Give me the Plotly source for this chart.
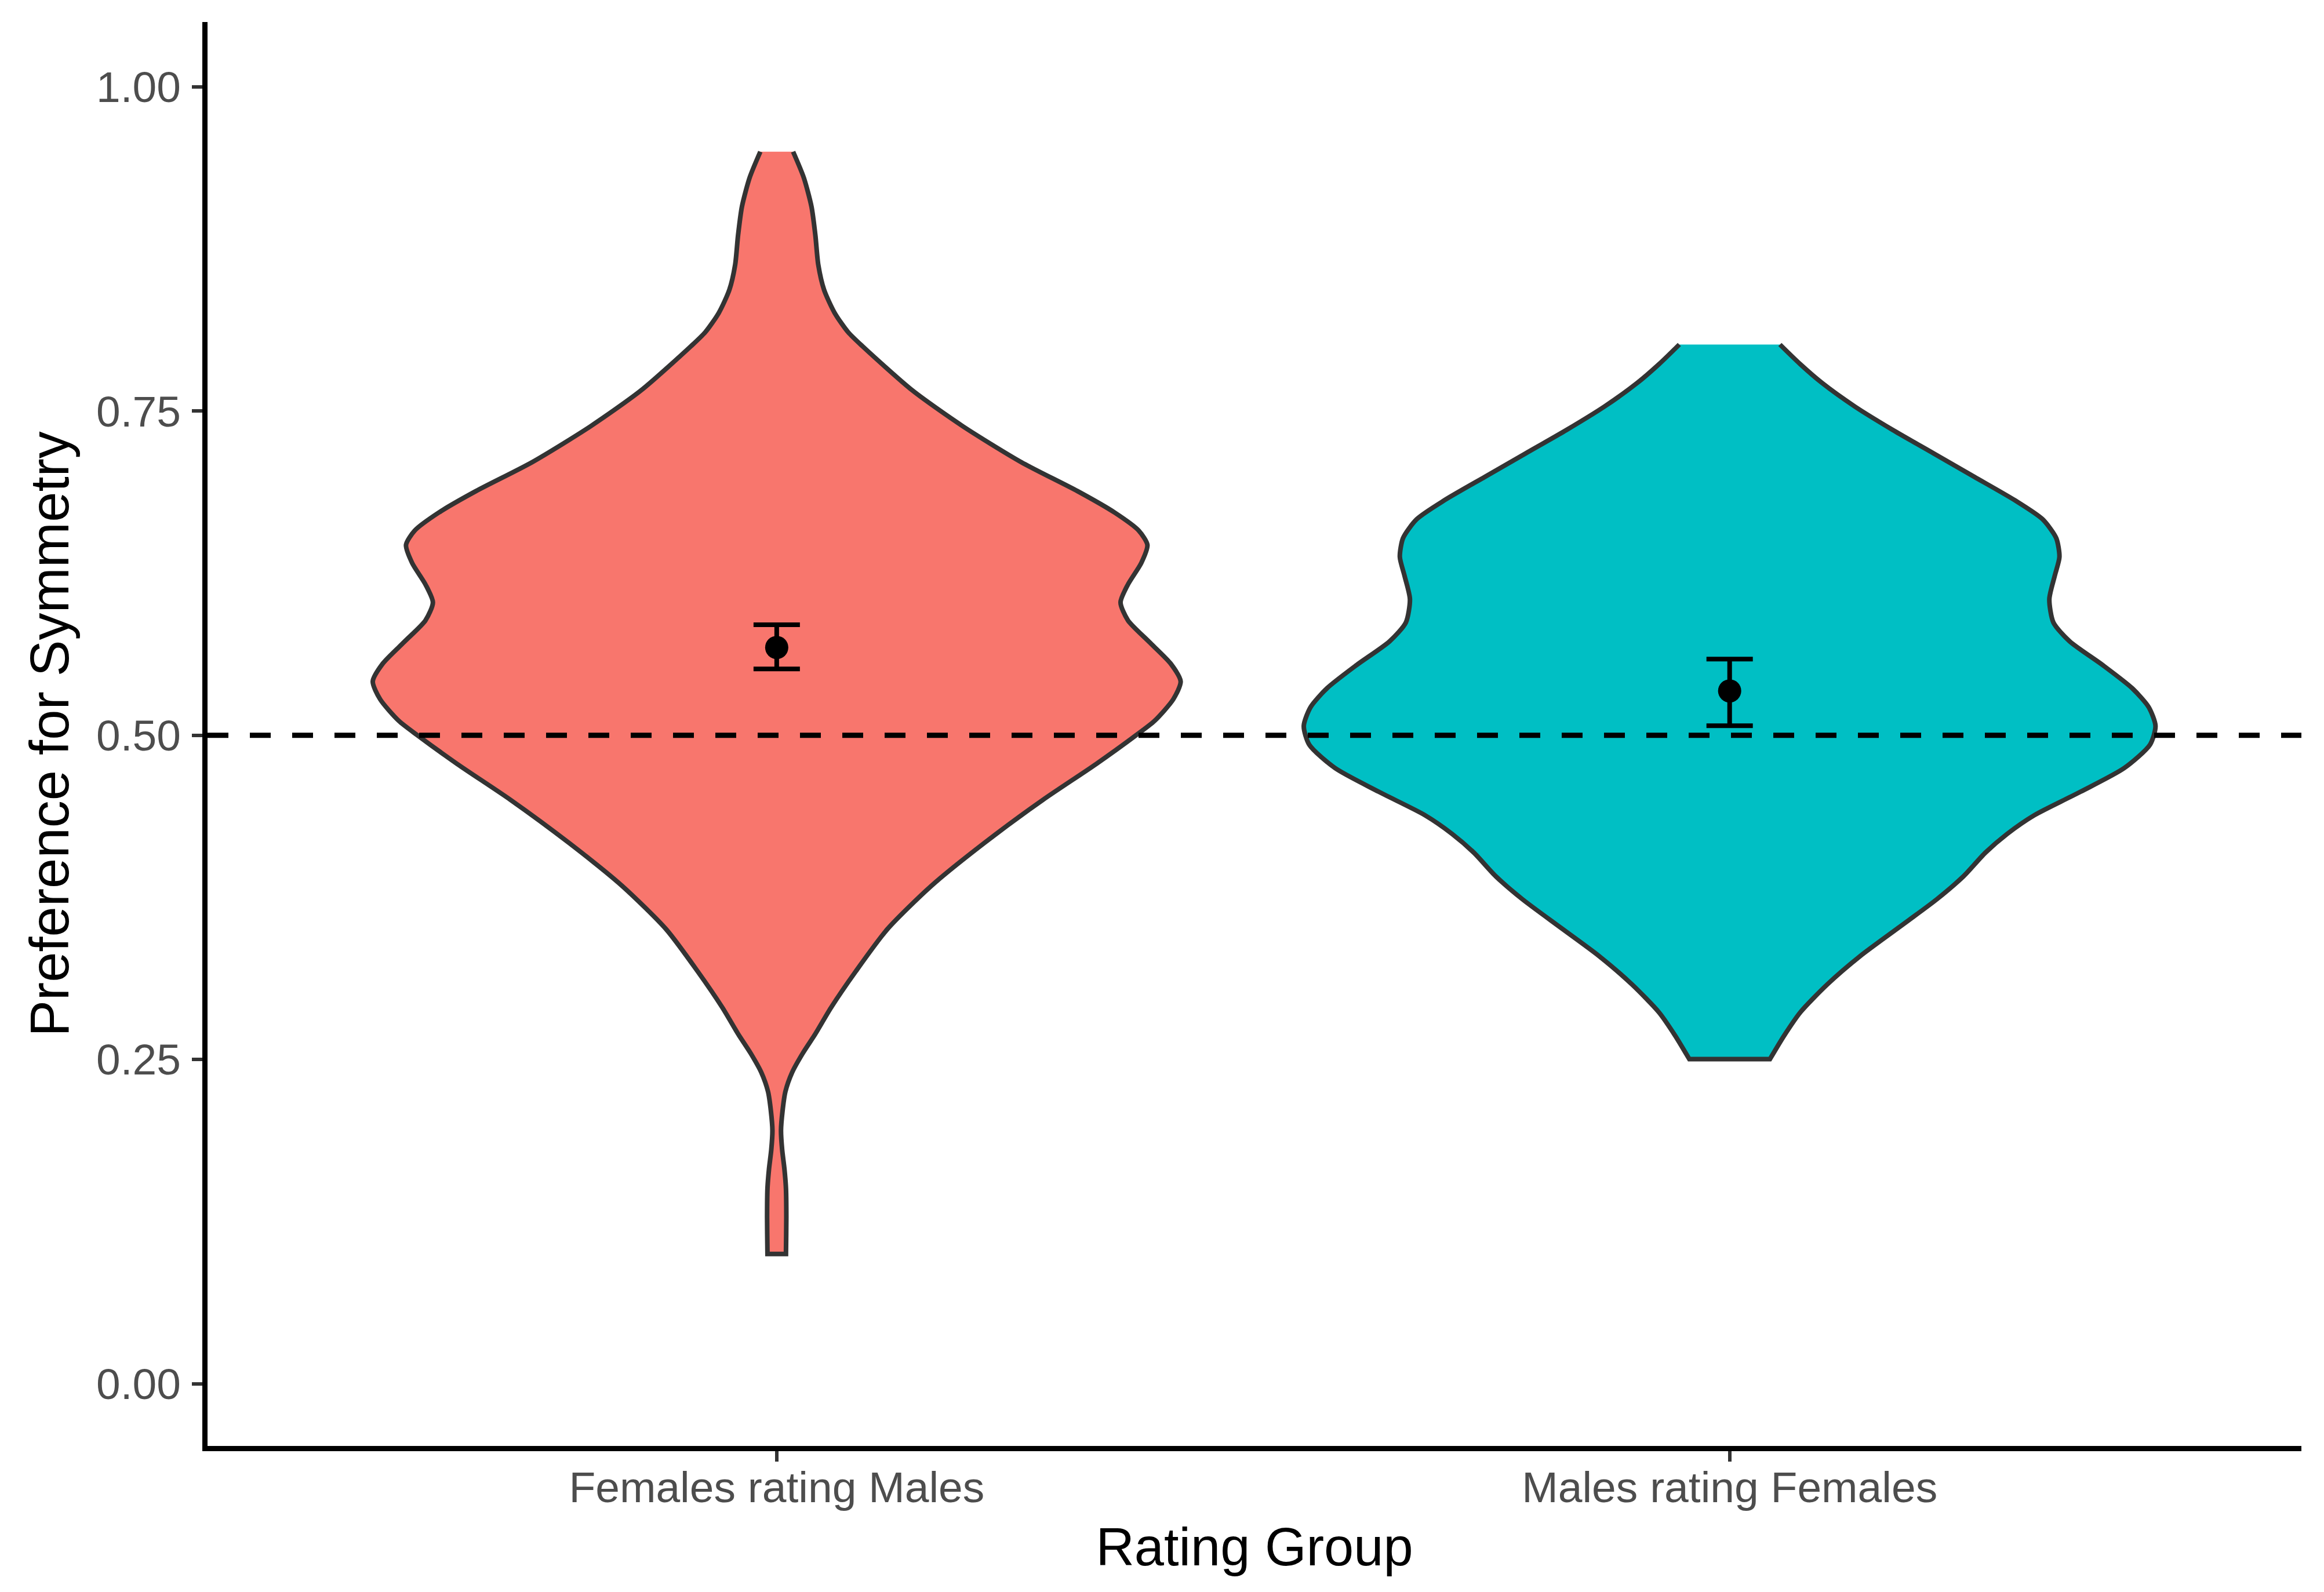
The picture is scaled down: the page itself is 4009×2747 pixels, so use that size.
import plotly.graph_objects as go

# ---------------- data ----------------
categories = ["Females rating Males", "Males rating Females"]
category_pos = [1, 2]
fill_colors = ["#F8766D", "#00BFC4"]

# violin outline profiles: preference level -> half-width (x units)
fm_levels = [0.950, 0.930, 0.9076, 0.8853, 0.8629, 0.8435, 0.8257, 0.8108, 0.800,
             0.7659, 0.7382, 0.7105, 0.6883, 0.6717, 0.6579, 0.6468, 0.6329, 0.6163,
             0.6025, 0.5886, 0.5720, 0.5554, 0.5415, 0.5277, 0.5111, 0.500, 0.4778,
             0.4502, 0.4169, 0.3837, 0.3504, 0.3180, 0.2900, 0.2698, 0.2549, 0.2401,
             0.2252, 0.2102, 0.1953, 0.1805, 0.1655, 0.1506, 0.1283, 0.100]
fm_halfwidth = [0.0172, 0.0284, 0.0365, 0.0406, 0.0436, 0.0497, 0.0608, 0.0750, 0.0900,
                0.1424, 0.1955, 0.2569, 0.3156, 0.3547, 0.3798, 0.3890, 0.3826, 0.3686,
                0.3608, 0.3686, 0.3909, 0.4133, 0.4239, 0.4161, 0.3965, 0.3770, 0.3351,
                0.2793, 0.2178, 0.1620, 0.1160, 0.0830, 0.0570, 0.0406, 0.0274, 0.0162,
                0.0091, 0.0061, 0.0045, 0.0057, 0.0081, 0.0097, 0.0101, 0.0097]

mf_levels = [0.8013, 0.7861, 0.7716, 0.7535, 0.7354, 0.7173, 0.6992, 0.6810, 0.6666,
             0.6521, 0.6376, 0.6231, 0.6050, 0.5869, 0.5724, 0.5543, 0.5362, 0.5217,
             0.5072, 0.4928, 0.4747, 0.4565, 0.4384, 0.4240, 0.4095, 0.3914, 0.3733,
             0.3515, 0.3298, 0.3081, 0.2864, 0.2683, 0.2503]
mf_halfwidth = [0.0528, 0.0742, 0.0971, 0.1314, 0.1713, 0.2142, 0.2570, 0.2998, 0.3284,
                0.3427, 0.3461, 0.3412, 0.3355, 0.3398, 0.3569, 0.3912, 0.4226, 0.4398,
                0.4469, 0.4412, 0.4141, 0.3684, 0.3198, 0.2913, 0.2684, 0.2456, 0.2170,
                0.1770, 0.1371, 0.1028, 0.0742, 0.0571, 0.0423]

# means with error bar limits
means = [0.5677, 0.5342]
upper = [0.5852, 0.5588]
lower = [0.5512, 0.5074]

reference_level = 0.5

y_tickvals = [0.00, 0.25, 0.50, 0.75, 1.00]
y_ticktext = ["0.00", "0.25", "0.50", "0.75", "1.00"]

# ---------------- figure ----------------
FONT = "Liberation Sans, Arial, Helvetica, sans-serif"
fig = go.Figure()

profiles = [(fm_levels, fm_halfwidth), (mf_levels, mf_halfwidth)]
for pos, (lev, hw), col, name in zip(category_pos, profiles, fill_colors, categories):
    right_x = [pos + w for w in hw]
    left_x = [pos - w for w in reversed(hw)]
    # repeat the bottom corners so the spline keeps them sharp (flat violin end)
    xs = right_x + [right_x[-1]] + [left_x[0]] + left_x
    ys = list(lev) + [lev[-1], lev[-1]] + list(reversed(lev))
    fig.add_trace(go.Scatter(
        x=xs, y=ys, mode="lines", fill="toself", fillcolor=col,
        line=dict(color="#333333", width=8, shape="spline", smoothing=0.7),
        name=name, showlegend=False, hoverinfo="skip"))

fig.add_hline(y=reference_level, line=dict(color="black", width=9, dash="36px,37px"),
              layer="above")

fig.add_trace(go.Scatter(
    x=category_pos, y=means, mode="markers",
    marker=dict(color="black", size=40),
    error_y=dict(type="data", symmetric=False,
                 array=[u - m for u, m in zip(upper, means)],
                 arrayminus=[m - l for m, l in zip(means, lower)],
                 color="black", thickness=8, width=40),
    showlegend=False))

fig.update_layout(
    width=4009, height=2747,
    margin=dict(l=358, r=39, t=38, b=252),
    paper_bgcolor="white", plot_bgcolor="white",
    font=dict(family=FONT),
    showlegend=False,
)
fig.update_xaxes(
    range=[0.4027, 2.6], tickvals=category_pos, ticktext=categories,
    showline=True, linecolor="black", linewidth=9, mirror=False,
    ticks="outside", ticklen=18, tickwidth=6, tickcolor="#333333",
    tickfont=dict(size=75, color="#4D4D4D", family=FONT),
    ticklabelstandoff=-20,
    showgrid=False, zeroline=False,
    title=dict(text="Rating Group", font=dict(size=92, color="black", family=FONT), standoff=33),
)
fig.update_yaxes(
    range=[-0.048, 1.05], tickvals=y_tickvals, ticktext=y_ticktext,
    showline=True, linecolor="black", linewidth=9,
    ticks="outside", ticklen=18, tickwidth=6, tickcolor="#333333",
    tickfont=dict(size=75, color="#4D4D4D", family=FONT),
    ticklabelstandoff=4,
    showgrid=False, zeroline=False,
    title=dict(text="Preference for Symmetry", font=dict(size=94, color="black", family=FONT), standoff=20),
)

fig.write_html("out.html", config={"displayModeBar": False},
               post_script="document.body.style.margin='0';")
